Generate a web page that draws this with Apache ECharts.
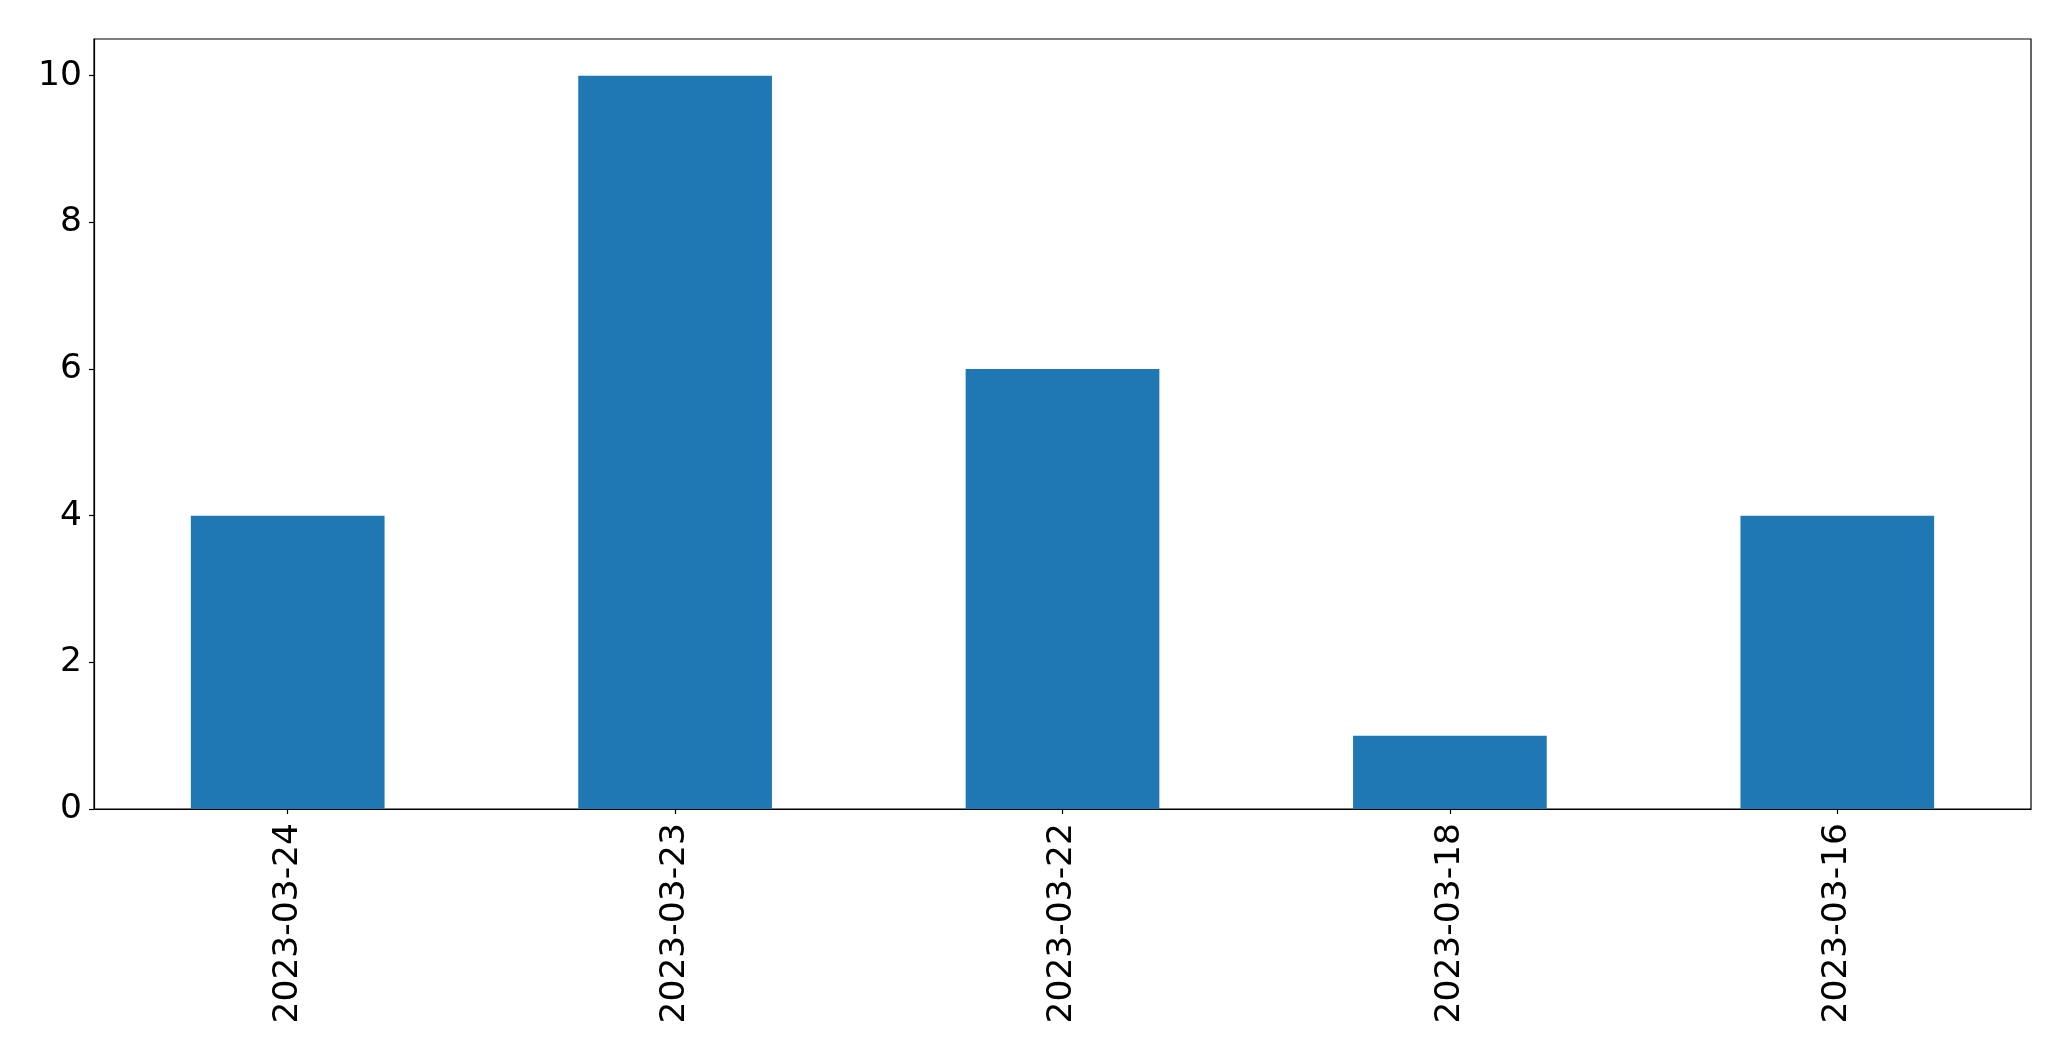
<!DOCTYPE html>
<html>
<head>
<meta charset="utf-8">
<script src="https://cdn.jsdelivr.net/npm/echarts@6/dist/echarts.min.js"></script>
<style>
html,body{margin:0;padding:0;background:#fff;}
#chart{width:2071px;height:1061px;}
</style>
</head>
<body>
<div id="chart"></div>
<script>
const categories = ['2023-03-24', '2023-03-23', '2023-03-22', '2023-03-18', '2023-03-16'];
const values = [4, 10, 6, 1, 4];
const yTicks = [0, 2, 4, 6, 8, 10];

const chart = echarts.init(document.getElementById('chart'));
chart.setOption({
  animation: false,
  backgroundColor: '#ffffff',
  textStyle: { fontFamily: 'DejaVu Sans' },
  grid: {
    left: 94, right: 40, top: 39, bottom: 252,
    show: true, borderColor: '#000', borderWidth: 1.2, backgroundColor: 'transparent'
  },
  xAxis: {
    type: 'category',
    data: categories,
    boundaryGap: true,
    axisLine: { show: true, lineStyle: { color: '#000', width: 1.2 } },
    axisTick: { show: true, alignWithLabel: true, length: 5, lineStyle: { color: '#000', width: 1.2 } },
    axisLabel: { rotate: 90, fontSize: 34.5, color: '#000', margin: 14, fontFamily: 'DejaVu Sans' },
    splitLine: { show: false }
  },
  yAxis: {
    type: 'value',
    min: 0, max: 10.5,
    axisLine: { show: true, lineStyle: { color: '#000', width: 1.2 } },
    axisTick: { show: true, length: 5, customValues: yTicks, lineStyle: { color: '#000', width: 1.2 } },
    axisLabel: {
      fontSize: 34.5, color: '#000', margin: 12, fontFamily: 'DejaVu Sans',
      customValues: yTicks
    },
    splitLine: { show: false }
  },
  series: [{
    type: 'bar',
    data: values,
    barWidth: '50%',
    itemStyle: { color: '#1f77b4' }
  }]
});
</script>
</body>
</html>
